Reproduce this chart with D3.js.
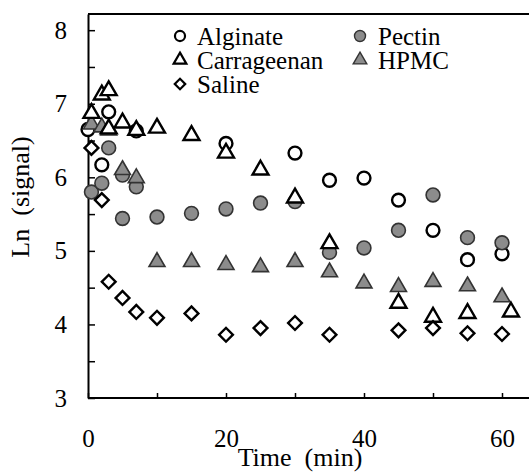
<!DOCTYPE html>
<html>
<head>
    <meta charset="utf-8" />
    <title>Ln (signal) vs time</title>
    <style>
        html, body {
            margin: 0;
            padding: 0;
            background-color: #fff;
        }
    </style>
</head>
<body>
    <div class="canvas"></div>
    <script src="https://d3js.org/d3.v7.min.js"></script>
    <script>
        // data: [time (min), ln(signal)]
        var alginate = [[0, 6.65], [2, 6.17], [3, 6.89], [7, 6.63], [20, 6.46], [30, 6.33],
                        [35, 5.96], [40, 5.99], [45, 5.69], [50, 5.28], [55, 4.88], [60, 4.96]];
        var pectin = [[0.5, 5.8], [2, 5.92], [3, 6.4], [5, 6.03], [7, 5.87], [5, 5.44],
                      [10, 5.46], [15, 5.51], [20, 5.57], [25, 5.65], [30, 5.67], [35, 4.98],
                      [40, 5.04], [45, 5.28], [50, 5.76], [55, 5.18], [60, 5.11]];
        var hpmc = [[0.5, 6.72], [2, 6.68], [3, 6.64], [5, 6.1], [7, 5.99], [10, 4.85],
                    [15, 4.85], [20, 4.81], [25, 4.78], [30, 4.85], [35, 4.71], [40, 4.56],
                    [45, 4.51], [50, 4.58], [55, 4.52], [60, 4.37]];
        var carrageenan = [[0.5, 6.87], [2, 7.12], [3, 7.18], [3, 6.66], [5, 6.74], [7, 6.64],
                           [10, 6.67], [15, 6.57], [20, 6.33], [25, 6.1], [30, 5.72], [35, 5.1],
                           [45, 4.29], [50, 4.1], [55, 4.15], [61.3, 4.17]];
        var saline = [[0.5, 6.4], [2, 5.69], [3, 4.58], [5, 4.36], [7, 4.17], [10, 4.09],
                      [15, 4.15], [20, 3.86], [25, 3.95], [30, 4.02], [35, 3.86], [45, 3.92],
                      [50, 3.95], [55, 3.88], [60, 3.87]];

        var xTicks = [0, 10, 20, 30, 40, 50, 60];
        var xLabels = [0, 20, 40, 60];
        var yTicks = [3, 3.5, 4, 4.5, 5, 5.5, 6, 6.5, 7, 7.5, 8];
        var yLabels = [3, 4, 5, 6, 7, 8];

        var width = 529;
        var height = 473;
        var serif = '"Liberation Serif", "Times New Roman", serif';

        var svg = d3.select(".canvas")
                    .append("svg")
                    .attr("width", width)
                    .attr("height", height)
                    .style("display", "block");

        var x = d3.scaleLinear().domain([0, 64]).range([88, 529.6]);
        var y = d3.scaleLinear().domain([3, 8.22]).range([398, 14]);

        // top frame line
        svg.append("line")
            .attr("x1", x(0)).attr("x2", width)
            .attr("y1", y(8.22)).attr("y2", y(8.22))
            .attr("stroke", "#000")
            .attr("stroke-width", 2);

        var xAxis = svg.append("g")
            .attr("transform", "translate(0," + y(3) + ")")
            .call(d3.axisBottom(x)
                .tickValues(xTicks)
                .tickSizeInner(-5)
                .tickSizeOuter(0)
                .tickPadding(31)
                .tickFormat(function(d) { return xLabels.indexOf(d) >= 0 ? d : ""; }));

        var yAxis = svg.append("g")
            .attr("transform", "translate(" + x(0) + ",0)")
            .call(d3.axisLeft(y)
                .tickValues(yTicks)
                .tickSizeInner(-7)
                .tickSizeOuter(0)
                .tickPadding(21)
                .tickFormat(function(d) { return yLabels.indexOf(d) >= 0 ? d : ""; }));

        [xAxis, yAxis].forEach(function(g) {
            g.attr("font-family", null).attr("font-size", null);
            g.select(".domain").attr("stroke-width", 2).attr("stroke", "#000");
            g.selectAll(".tick line").attr("stroke-width", 1.5).attr("stroke", "#000");
            g.selectAll(".tick text")
                .style("font-family", serif)
                .style("font-size", "25px")
                .attr("fill", "#000");
        });
        // the x axis line runs to the right edge
        xAxis.select(".domain").attr("d", "M" + x(0) + ",0H" + width);

        // axis titles
        svg.append("text")
            .attr("x", 300)
            .attr("y", 466)
            .attr("text-anchor", "middle")
            .style("font-family", serif)
            .style("font-size", "26px")
            .style("white-space", "pre")
            .text("Time  (min)");

        svg.append("text")
            .attr("transform", "translate(29,197) rotate(-90)")
            .attr("text-anchor", "middle")
            .style("font-family", serif)
            .style("font-size", "26px")
            .style("white-space", "pre")
            .text("Ln  (signal)");

        var grey = "#8c8c8c";
        var series = [
            { data: alginate, type: d3.symbolCircle, size: 130, fill: "#fff", rot: 0 },
            { data: pectin, type: d3.symbolCircle, size: 150, fill: grey, rot: 0 },
            { data: hpmc, type: d3.symbolTriangle, size: 110, fill: grey, rot: 0 },
            { data: carrageenan, type: d3.symbolTriangle, size: 110, fill: "#fff", rot: 0 },
            { data: saline, type: d3.symbolSquare, size: 95, fill: "#fff", rot: 45 }
        ];

        series.forEach(function(s) {
            svg.append("g")
                .selectAll("path")
                .data(s.data)
                .enter()
                .append("path")
                .attr("d", d3.symbol().type(s.type).size(s.size))
                .attr("transform", function(d) {
                    return "translate(" + x(d[0]) + "," + y(d[1]) + ") rotate(" + s.rot + ")";
                })
                .attr("fill", s.fill)
                .attr("stroke", s.fill === "#fff" ? "#000" : "#333")
                .attr("stroke-width", s.fill === "#fff" ? 2.4 : 1.6);
        });

        // legend
        var legend = [
            { name: "Alginate", type: d3.symbolCircle, size: 80, fill: "#fff", rot: 0, col: 0, row: 0 },
            { name: "Carrageenan", type: d3.symbolTriangle, size: 70, fill: "#fff", rot: 0, col: 0, row: 1 },
            { name: "Saline", type: d3.symbolSquare, size: 55, fill: "#fff", rot: 45, col: 0, row: 2 },
            { name: "Pectin", type: d3.symbolCircle, size: 95, fill: grey, rot: 0, col: 1, row: 0 },
            { name: "HPMC", type: d3.symbolTriangle, size: 80, fill: grey, rot: 0, col: 1, row: 1 }
        ];
        var colX = [180, 360];
        var rowY = [45, 69, 93];

        var items = svg.append("g")
            .selectAll("g")
            .data(legend)
            .enter()
            .append("g")
            .attr("transform", function(d) { return "translate(" + colX[d.col] + "," + rowY[d.row] + ")"; });

        items.append("path")
            .attr("d", function(d) { return d3.symbol().type(d.type).size(d.size)(); })
            .attr("transform", function(d) { return "translate(0,-9) rotate(" + d.rot + ")"; })
            .attr("fill", function(d) { return d.fill; })
            .attr("stroke", function(d) { return d.fill === "#fff" ? "#000" : "#333"; })
            .attr("stroke-width", function(d) { return d.fill === "#fff" ? 2.2 : 1.4; });

        items.append("text")
            .attr("x", function(d) { return d.col === 0 ? 17 : 18; })
            .attr("y", 0)
            .style("font-family", serif)
            .style("font-size", "25px")
            .text(function(d) { return d.name; });
    </script>
</body>
</html>
